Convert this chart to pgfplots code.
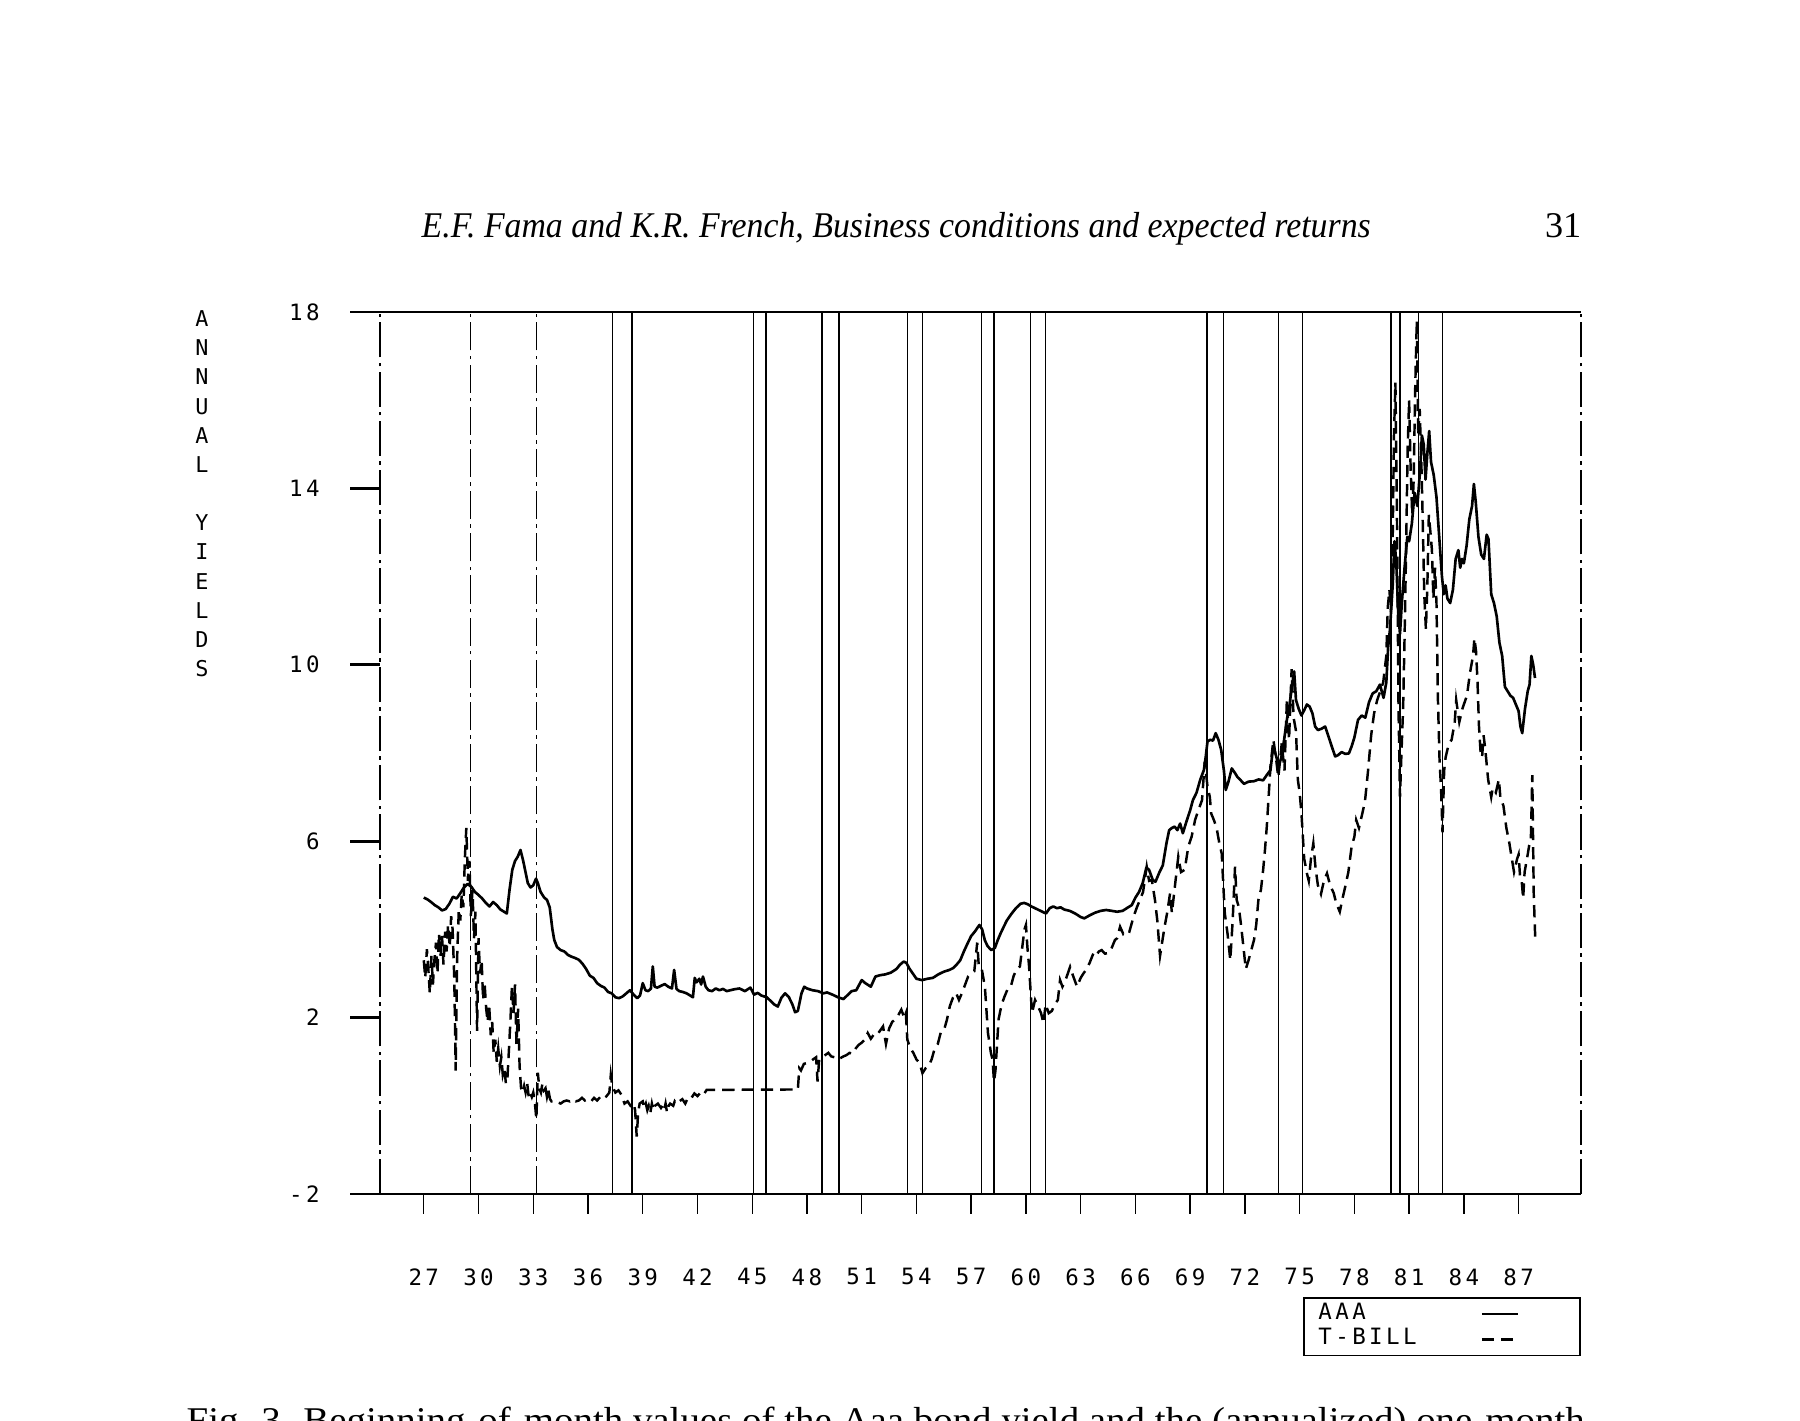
\documentclass[border=0pt]{standalone}
\usepackage{graphicx}
\usepackage{fontspec}
\setmainfont{Liberation Serif}
\newfontfamily\plotfont[LetterSpace=15]{DejaVu Sans Mono}
\usepackage{pgfplots}
\pgfplotsset{compat=1.18}
\newcommand\pf{\plotfont\fontsize{6.4}{7}\selectfont}
\begin{document}
\begin{tikzpicture}[x=1cm,y=1cm]
\useasboundingbox (0,0) rectangle (18,14.21);
% header
\node[anchor=base west, inner sep=0] at (4.21,11.834) {\resizebox{9.49cm}{\height}{\fontsize{10.3}{12}\selectfont\itshape E.F. Fama and K.R. French, Business conditions and expected returns}};
\node[anchor=base east, inner sep=0] at (15.82,11.834) {\fontsize{10.3}{12}\selectfont 31};
% caption (cut by page edge, as in the reference)
\node[anchor=base west, inner sep=0] at (1.86,-0.12) {\resizebox{13.98cm}{\height}{\fontsize{10.3}{12}\selectfont Fig. 3. Beginning-of-month values of the Aaa bond yield and the (annualized) one-month}};
% y axis label
\node[anchor=north, inner sep=0, align=center, font=\plotfont\fontsize{6.2}{8.3}\selectfont] at (2.02,11.11) {A\\N\\N\\U\\A\\L\\\mbox{}\\Y\\I\\E\\L\\D\\S};
\begin{axis}[
  at={(3.80cm,2.27cm)}, anchor=south west,
  scale only axis, width=12.01cm, height=8.82cm,
  xmin=1924.6, xmax=1990.42, ymin=-2, ymax=18,
  clip=false,
  axis line style={draw=none},
  tick pos=left, tick align=outside,
  xtick={1927,1930,...,1987},
  xticklabels={27,30,33,36,39,42,45,48,51,54,57,60,63,66,69,72,75,78,81,84,87},
  minor x tick num=2,
  major tick length=0.2cm, minor tick length=0.1cm,
  xtick style={black, line width=0.4pt},
  ytick={-2,2,6,10,14,18},
  yticklabels={-2,2,6,10,14,18},
  ytick style={draw=none},
  ticklabel style={font=\pf},
  xticklabel style={yshift=-0.42cm},
  yticklabel style={xshift=-0.28cm},
  legend plot pos=right,
  legend image code/.code={\draw[#1] (0cm,0cm) -- (0.36cm,0cm); \path (0.9cm,0cm);},
  legend style={at={(1,-0.184)}, anchor=south east, draw=black, line width=0.5pt,
    font=\pf, inner xsep=2pt, inner ysep=0.5pt, row sep=-1pt,
    nodes={inner ysep=1pt, inner xsep=2pt}, cells={anchor=west}},
]
% recession lines
\pgfplotsinvokeforeach{1929.58,1933.17}{
  \addplot[forget plot, black, line width=0.35pt, dash pattern=on 8pt off 1.5pt on 1pt off 1.5pt] coordinates {(#1,-2) (#1,18)};
}
\pgfplotsinvokeforeach{1937.33,1938.42,1945.08,1945.75,1948.83,1949.75,1953.5,1954.33,1957.58,1958.25,1960.25,1961.08,1969.92,1970.83,1973.83,1975.17,1980.0,1980.5,1981.5,1982.83}{
  \addplot[forget plot, black, line width=0.4pt] coordinates {(#1,-2) (#1,18)};
}
% AAA
\addplot[black, line width=0.75pt, line join=round] table {
1927.0 4.72
1927.2 4.68
1927.4 4.62
1927.6 4.55
1927.8 4.50
1928.0 4.43
1928.2 4.46
1928.4 4.58
1928.6 4.74
1928.8 4.70
1929.0 4.82
1929.2 4.95
1929.4 5.03
1929.6 4.97
1929.8 4.85
1930.0 4.78
1930.2 4.70
1930.4 4.60
1930.6 4.52
1930.8 4.62
1931.0 4.55
1931.2 4.45
1931.4 4.40
1931.55 4.36
1931.7 4.90
1931.85 5.35
1932.0 5.55
1932.15 5.65
1932.3 5.80
1932.45 5.55
1932.55 5.35
1932.7 5.05
1932.85 4.95
1933.0 5.0
1933.15 5.15
1933.25 5.05
1933.4 4.85
1933.6 4.72
1933.75 4.67
1933.9 4.50
1934.05 4.0
1934.15 3.76
1934.3 3.60
1934.5 3.53
1934.7 3.50
1934.9 3.42
1935.1 3.38
1935.3 3.35
1935.5 3.31
1935.7 3.22
1935.9 3.10
1936.1 2.95
1936.3 2.90
1936.5 2.78
1936.7 2.72
1936.9 2.68
1937.1 2.58
1937.3 2.55
1937.5 2.46
1937.7 2.44
1937.9 2.48
1938.1 2.55
1938.3 2.62
1938.5 2.52
1938.7 2.44
1938.85 2.50
1939.0 2.78
1939.15 2.62
1939.3 2.60
1939.45 2.66
1939.55 3.16
1939.65 2.70
1939.8 2.68
1940.0 2.72
1940.2 2.76
1940.4 2.70
1940.6 2.66
1940.72 3.08
1940.85 2.65
1941.0 2.60
1941.2 2.58
1941.4 2.55
1941.6 2.50
1941.75 2.46
1941.85 2.90
1941.95 2.80
1942.1 2.88
1942.2 2.75
1942.3 2.93
1942.45 2.70
1942.6 2.62
1942.8 2.60
1943.0 2.66
1943.2 2.62
1943.4 2.65
1943.6 2.60
1943.8 2.62
1944.0 2.64
1944.3 2.66
1944.6 2.60
1944.9 2.68
1945.1 2.52
1945.3 2.56
1945.5 2.50
1945.8 2.46
1946.0 2.38
1946.2 2.30
1946.4 2.25
1946.6 2.45
1946.8 2.55
1947.0 2.47
1947.2 2.30
1947.35 2.12
1947.5 2.15
1947.7 2.55
1947.85 2.70
1948.0 2.66
1948.3 2.62
1948.6 2.60
1948.9 2.55
1949.1 2.57
1949.4 2.52
1949.7 2.46
1950.0 2.42
1950.2 2.50
1950.45 2.60
1950.7 2.62
1951.0 2.85
1951.2 2.78
1951.5 2.70
1951.75 2.93
1952.0 2.96
1952.3 2.98
1952.6 3.02
1952.9 3.10
1953.1 3.20
1953.3 3.27
1953.45 3.24
1953.6 3.12
1953.8 3.00
1954.0 2.88
1954.3 2.85
1954.6 2.88
1954.9 2.90
1955.2 2.98
1955.5 3.04
1955.8 3.08
1956.0 3.12
1956.2 3.20
1956.4 3.30
1956.6 3.50
1956.8 3.68
1957.0 3.85
1957.2 3.95
1957.45 4.10
1957.6 4.00
1957.75 3.75
1957.9 3.62
1958.1 3.53
1958.3 3.58
1958.45 3.75
1958.6 3.90
1958.75 4.03
1958.95 4.20
1959.2 4.35
1959.45 4.48
1959.7 4.58
1959.9 4.60
1960.1 4.57
1960.3 4.52
1960.5 4.48
1960.7 4.44
1960.9 4.40
1961.1 4.36
1961.3 4.48
1961.5 4.52
1961.7 4.48
1961.9 4.50
1962.1 4.45
1962.4 4.42
1962.7 4.36
1963.0 4.28
1963.2 4.25
1963.5 4.32
1963.8 4.38
1964.1 4.42
1964.4 4.44
1964.7 4.42
1965.0 4.40
1965.3 4.42
1965.6 4.50
1965.8 4.55
1966.0 4.72
1966.2 4.85
1966.4 5.05
1966.6 5.40
1966.75 5.35
1966.95 5.12
1967.1 5.08
1967.3 5.28
1967.5 5.45
1967.7 5.95
1967.85 6.25
1968.0 6.30
1968.15 6.33
1968.3 6.25
1968.45 6.40
1968.6 6.18
1968.8 6.45
1969.0 6.70
1969.15 6.93
1969.35 7.10
1969.55 7.39
1969.75 7.61
1969.85 7.90
1969.95 8.26
1970.1 8.30
1970.25 8.28
1970.4 8.45
1970.55 8.30
1970.7 8.07
1970.85 7.60
1970.95 7.16
1971.1 7.35
1971.28 7.65
1971.45 7.55
1971.6 7.45
1971.75 7.39
1971.95 7.30
1972.2 7.35
1972.5 7.36
1972.75 7.40
1973.0 7.38
1973.2 7.50
1973.4 7.61
1973.55 8.14
1973.7 7.95
1973.85 7.70
1974.0 7.90
1974.15 8.30
1974.3 8.75
1974.45 9.10
1974.6 9.58
1974.7 9.85
1974.8 9.20
1974.95 9.00
1975.1 8.85
1975.25 8.97
1975.4 9.10
1975.55 9.05
1975.7 8.90
1975.85 8.60
1976.0 8.52
1976.2 8.55
1976.4 8.60
1976.6 8.35
1976.8 8.10
1976.95 7.92
1977.1 7.95
1977.3 8.02
1977.5 7.98
1977.7 7.99
1977.85 8.15
1978.0 8.35
1978.2 8.75
1978.4 8.85
1978.6 8.80
1978.8 9.15
1979.0 9.35
1979.2 9.40
1979.4 9.55
1979.6 9.25
1979.75 9.60
1979.85 10.40
1979.95 10.80
1980.1 11.80
1980.2 12.80
1980.3 12.30
1980.4 11.20
1980.5 10.70
1980.6 11.40
1980.75 12.20
1980.9 12.90
1981.0 12.80
1981.15 13.20
1981.3 13.90
1981.45 13.60
1981.6 14.40
1981.7 15.20
1981.8 15.00
1981.9 14.20
1982.0 14.80
1982.1 15.30
1982.2 14.60
1982.35 14.30
1982.5 13.80
1982.65 12.90
1982.8 12.00
1982.9 11.60
1983.0 11.80
1983.1 11.50
1983.25 11.40
1983.4 11.70
1983.55 12.40
1983.7 12.60
1983.8 12.20
1983.9 12.40
1984.0 12.30
1984.15 12.70
1984.3 13.30
1984.45 13.60
1984.55 14.10
1984.65 13.70
1984.8 12.90
1984.95 12.50
1985.1 12.40
1985.25 12.95
1985.35 12.85
1985.5 11.60
1985.65 11.40
1985.8 11.10
1985.95 10.50
1986.1 10.20
1986.25 9.50
1986.4 9.40
1986.55 9.30
1986.7 9.25
1986.85 9.10
1987.0 8.95
1987.1 8.60
1987.2 8.45
1987.35 9.00
1987.5 9.40
1987.6 9.55
1987.7 10.20
1987.8 10.00
1987.9 9.70
};
% T-bill
\addplot[black, line width=0.7pt, dash pattern=on 3.5pt off 2pt] table {
1927.00 3.30
1927.08 2.90
1927.17 3.55
1927.25 3.10
1927.33 2.55
1927.42 3.40
1927.50 2.75
1927.58 3.30
1927.67 3.70
1927.75 3.00
1927.83 3.90
1927.92 3.40
1928.00 3.85
1928.08 3.20
1928.17 3.95
1928.25 3.50
1928.33 4.10
1928.42 3.60
1928.50 4.30
1928.58 4.00
1928.67 2.90
1928.75 0.80
1928.83 3.40
1928.92 4.45
1929.00 4.20
1929.08 4.80
1929.17 4.50
1929.25 5.60
1929.33 6.30
1929.42 5.10
1929.50 5.55
1929.58 4.30
1929.67 4.90
1929.75 3.80
1929.83 4.40
1929.92 1.70
1930.00 3.80
1930.08 3.00
1930.17 3.30
1930.25 2.40
1930.33 2.80
1930.42 2.20
1930.50 1.90
1930.58 2.30
1930.67 1.60
1930.75 1.90
1930.83 1.20
1930.92 1.50
1931.00 1.00
1931.08 1.30
1931.17 0.90
1931.25 1.10
1931.33 0.70
1931.42 0.85
1931.50 0.50
1931.58 0.60
1931.67 1.30
1931.75 1.95
1931.83 2.70
1931.92 2.10
1932.00 2.75
1932.08 1.40
1932.17 2.20
1932.25 0.90
1932.33 0.40
1932.42 0.30
1932.50 0.45
1932.58 0.30
1932.67 0.50
1932.75 0.20
1932.83 0.30
1932.92 0.20
1933.00 0.30
1933.08 0.10
1933.17 -0.30
1933.25 0.75
1933.33 0.40
1933.42 0.30
1933.50 0.50
1933.58 0.35
1933.67 0.40
1933.75 0.20
1933.83 0.35
1933.92 0.15
1934.00 0.10
1934.17 0.12
1934.33 0.08
1934.50 0.05
1934.67 0.10
1934.83 0.12
1935.00 0.10
1935.17 0.15
1935.33 0.10
1935.50 0.12
1935.67 0.18
1935.83 0.12
1936.00 0.15
1936.17 0.10
1936.33 0.18
1936.50 0.12
1936.67 0.20
1936.83 0.15
1937.00 0.21
1937.17 0.30
1937.25 0.70
1937.33 0.45
1937.50 0.30
1937.67 0.35
1937.83 0.25
1938.00 0.05
1938.17 0.10
1938.33 0.00
1938.50 0.05
1938.58 -0.10
1938.67 -0.70
1938.75 -0.15
1938.83 0.05
1939.00 0.10
1939.08 -0.05
1939.17 0.05
1939.25 -0.10
1939.33 0.00
1939.42 -0.15
1939.50 0.05
1939.58 -0.10
1939.67 0.00
1939.83 0.05
1940.00 -0.05
1940.08 0.00
1940.17 -0.10
1940.25 0.05
1940.33 -0.15
1940.42 0.00
1940.50 0.05
1940.67 0.00
1940.75 0.10
1940.83 0.05
1941.00 0.10
1941.17 0.15
1941.33 0.05
1941.50 0.20
1941.67 0.18
1941.83 0.28
1942.00 0.22
1942.17 0.30
1942.33 0.25
1942.50 0.36
1947.50 0.37
1947.58 0.85
1947.67 0.80
1947.83 0.95
1948.00 0.97
1948.17 1.00
1948.33 1.05
1948.50 1.10
1948.58 0.55
1948.67 1.05
1948.83 1.10
1949.00 1.15
1949.17 1.20
1949.33 1.12
1949.50 1.10
1949.67 1.05
1949.83 1.08
1950.00 1.12
1950.17 1.15
1950.33 1.20
1950.50 1.18
1950.67 1.30
1950.83 1.38
1951.00 1.43
1951.17 1.50
1951.33 1.65
1951.50 1.52
1951.67 1.62
1951.83 1.60
1952.00 1.70
1952.17 1.80
1952.33 1.40
1952.50 1.75
1952.67 1.90
1952.83 1.96
1953.00 2.05
1953.17 2.18
1953.33 2.00
1953.42 2.10
1953.50 1.50
1953.67 1.30
1953.83 1.20
1954.00 1.05
1954.17 0.97
1954.33 0.74
1954.50 0.85
1954.67 0.90
1954.83 1.05
1955.00 1.30
1955.17 1.40
1955.33 1.66
1955.50 1.70
1955.67 1.95
1955.83 2.26
1956.00 2.45
1956.17 2.56
1956.33 2.40
1956.50 2.56
1956.67 2.75
1956.83 2.93
1957.00 3.00
1957.17 3.05
1957.33 3.70
1957.42 3.15
1957.58 3.10
1957.75 2.70
1957.92 1.65
1958.08 1.20
1958.17 1.05
1958.25 0.55
1958.33 0.80
1958.50 1.96
1958.67 2.30
1958.83 2.48
1959.00 2.65
1959.17 2.70
1959.33 2.95
1959.50 3.10
1959.67 3.16
1959.83 3.70
1959.92 4.00
1960.00 4.10
1960.08 3.60
1960.17 3.17
1960.33 2.10
1960.50 2.40
1960.67 2.25
1960.83 2.10
1960.96 1.87
1961.08 2.30
1961.25 2.10
1961.42 2.15
1961.58 2.30
1961.75 2.40
1961.87 2.85
1962.00 2.70
1962.17 2.85
1962.42 3.15
1962.58 2.95
1962.80 2.70
1963.00 2.90
1963.15 3.00
1963.33 3.10
1963.50 3.25
1963.70 3.46
1963.83 3.40
1964.00 3.50
1964.15 3.53
1964.33 3.45
1964.50 3.46
1964.67 3.55
1964.88 3.76
1965.00 3.80
1965.16 4.06
1965.33 3.90
1965.50 3.98
1965.67 3.95
1965.90 4.29
1966.08 4.50
1966.25 4.67
1966.42 4.85
1966.62 5.42
1966.75 5.10
1966.90 5.12
1967.07 4.67
1967.20 4.20
1967.35 3.40
1967.50 3.80
1967.60 4.06
1967.75 4.40
1967.90 4.82
1968.00 4.37
1968.17 5.00
1968.35 5.65
1968.50 5.30
1968.70 5.35
1968.90 5.88
1969.08 6.10
1969.27 6.48
1969.45 6.70
1969.65 6.93
1969.80 7.80
1969.95 7.24
1970.08 7.00
1970.15 6.63
1970.30 6.48
1970.45 6.30
1970.60 5.95
1970.73 5.72
1970.83 4.90
1970.90 4.36
1971.05 3.90
1971.20 3.30
1971.33 4.20
1971.46 5.42
1971.55 4.67
1971.67 4.50
1971.80 4.06
1971.92 3.60
1972.05 3.10
1972.20 3.30
1972.33 3.50
1972.50 3.76
1972.62 4.10
1972.74 4.67
1972.88 4.90
1973.00 5.35
1973.10 5.80
1973.20 6.33
1973.30 7.00
1973.40 7.69
1973.56 8.30
1973.70 7.90
1973.83 7.45
1973.92 7.80
1974.02 8.22
1974.17 7.60
1974.30 9.20
1974.42 8.30
1974.56 9.90
1974.67 8.80
1974.80 8.50
1974.90 7.40
1975.00 7.10
1975.10 6.63
1975.25 5.60
1975.40 5.27
1975.50 5.10
1975.62 5.60
1975.75 5.95
1975.87 5.40
1976.00 5.00
1976.17 4.80
1976.33 5.10
1976.50 5.27
1976.67 5.00
1976.87 4.82
1977.00 4.60
1977.20 4.40
1977.35 4.70
1977.50 4.97
1977.67 5.30
1977.85 5.88
1978.00 6.10
1978.10 6.48
1978.25 6.30
1978.42 6.60
1978.58 6.90
1978.75 7.60
1978.92 8.40
1979.08 8.90
1979.25 9.20
1979.42 9.40
1979.58 9.60
1979.75 10.20
1979.83 11.30
1979.92 11.70
1980.00 11.20
1980.08 12.20
1980.17 15.20
1980.25 16.40
1980.33 13.50
1980.42 9.00
1980.50 7.00
1980.58 8.00
1980.67 9.00
1980.75 10.60
1980.83 12.50
1980.92 14.90
1981.00 16.00
1981.08 14.50
1981.17 13.40
1981.25 14.20
1981.33 16.20
1981.42 17.80
1981.50 15.20
1981.58 15.80
1981.67 14.60
1981.75 13.20
1981.83 11.60
1981.92 10.80
1982.00 11.80
1982.08 13.40
1982.17 13.00
1982.25 12.60
1982.33 11.50
1982.42 12.20
1982.50 11.40
1982.58 9.20
1982.67 7.80
1982.75 7.20
1982.83 6.20
1982.92 7.60
1983.00 7.90
1983.17 8.20
1983.33 8.30
1983.50 8.70
1983.58 9.20
1983.75 8.70
1983.92 9.00
1984.00 9.10
1984.17 9.30
1984.33 9.80
1984.50 10.20
1984.58 10.60
1984.67 10.30
1984.75 9.60
1984.83 8.60
1984.92 8.00
1985.00 7.90
1985.08 8.40
1985.17 8.10
1985.33 7.40
1985.50 7.00
1985.58 7.20
1985.75 7.10
1985.92 7.40
1986.00 7.00
1986.17 6.80
1986.33 6.30
1986.50 5.94
1986.67 5.50
1986.75 5.30
1986.92 5.60
1987.00 5.70
1987.08 5.20
1987.17 5.10
1987.25 4.70
1987.33 5.30
1987.50 5.70
1987.58 5.90
1987.67 6.00
1987.75 7.50
1987.83 4.80
1987.92 3.70
};
\legend{\makebox[1.55cm][l]{AAA},\makebox[1.55cm][l]{T-BILL}}
% axis frame
\draw[line width=0.75pt] (rel axis cs:0,0) -- (rel axis cs:1,0);
\draw[line width=0.75pt] (rel axis cs:0,1) -- (rel axis cs:1,1);
\draw[line width=0.35pt, dash pattern=on 10pt off 1.5pt on 1pt off 1.5pt] (rel axis cs:0,0) -- (rel axis cs:0,1);
\draw[line width=0.35pt, dash pattern=on 10pt off 1.5pt on 1pt off 1.5pt] (rel axis cs:1,0) -- (rel axis cs:1,1);
\pgfplotsinvokeforeach{0,0.2,0.4,0.6,0.8,1}{
  \draw[line width=0.8pt] (rel axis cs:0,#1) -- ([xshift=-0.3cm]rel axis cs:0,#1);
}
\end{axis}
\end{tikzpicture}
\end{document}
